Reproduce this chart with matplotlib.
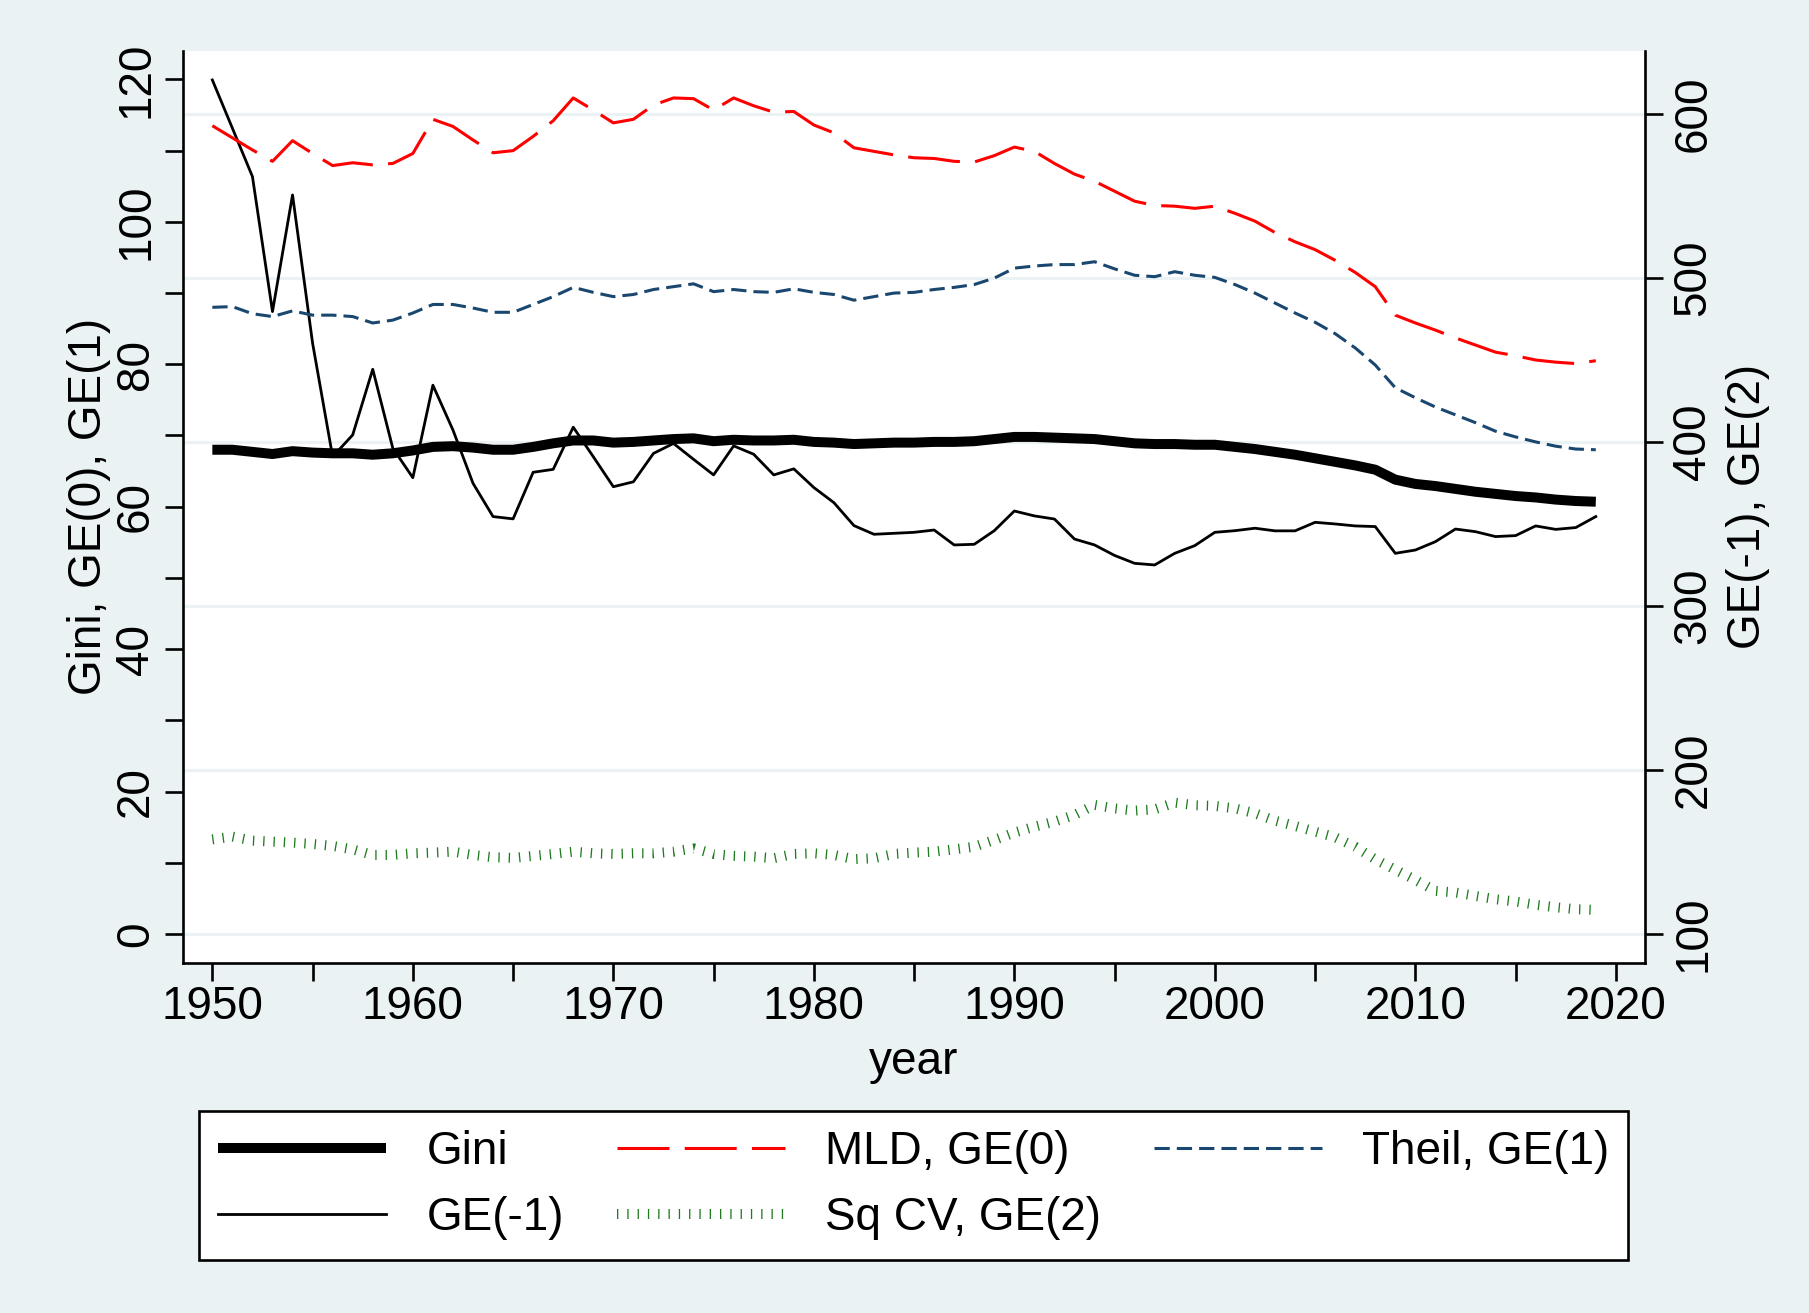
import numpy as np
import matplotlib
matplotlib.use("Agg")
import matplotlib.pyplot as plt

plt.rcParams['font.family'] = ['Liberation Sans', 'DejaVu Sans']
plt.rcParams['font.size'] = 33

# data
years = np.arange(1950, 2020)

gini = [68.0, 68.0, 67.7, 67.4, 67.8, 67.6, 67.5, 67.5, 67.3, 67.5,
        67.9, 68.4, 68.5, 68.3, 68.0, 68.0, 68.4, 68.9, 69.3, 69.3,
        69.0, 69.1, 69.3, 69.5, 69.6, 69.2, 69.4, 69.3, 69.3, 69.4,
        69.1, 69.0, 68.8, 68.9, 69.0, 69.0, 69.1, 69.1, 69.2, 69.5,
        69.8, 69.8, 69.7, 69.6, 69.5, 69.2, 68.9, 68.8, 68.8, 68.7,
        68.7, 68.4, 68.1, 67.7, 67.3, 66.8, 66.3, 65.8, 65.2, 63.8,
        63.2, 62.9, 62.5, 62.1, 61.8, 61.5, 61.3, 61.0, 60.8, 60.7]

mld = [113.5, 111.8, 110.1, 108.5, 111.4, 109.6, 107.9, 108.3, 108.0, 108.2,
       109.6, 114.4, 113.4, 111.5, 109.7, 110.0, 112.0, 114.2, 117.4, 115.7,
       113.9, 114.4, 116.4, 117.4, 117.3, 115.7, 117.4, 116.3, 115.4, 115.5,
       113.6, 112.5, 110.4, 109.9, 109.4, 109.0, 108.9, 108.5, 108.4, 109.3,
       110.5, 109.9, 108.2, 106.7, 105.7, 104.3, 102.9, 102.3, 102.2, 101.9,
       102.2, 101.2, 100.1, 98.5, 97.2, 96.1, 94.6, 92.9, 90.9, 86.9,
       85.8, 84.8, 83.7, 82.7, 81.7, 81.2, 80.6, 80.3, 80.1, 80.5]

theil = [88.0, 88.1, 87.1, 86.7, 87.5, 86.9, 86.9, 86.7, 85.8, 86.2,
         87.2, 88.4, 88.4, 87.9, 87.3, 87.3, 88.4, 89.5, 90.8, 90.1,
         89.5, 89.8, 90.5, 90.9, 91.3, 90.2, 90.5, 90.2, 90.1, 90.6,
         90.1, 89.8, 89.0, 89.5, 90.0, 90.1, 90.5, 90.8, 91.2, 92.1,
         93.5, 93.8, 94.0, 94.0, 94.4, 93.4, 92.5, 92.3, 93.0, 92.5,
         92.2, 91.2, 90.0, 88.6, 87.2, 85.9, 84.3, 82.3, 79.9, 76.7,
         75.3, 74.0, 72.9, 71.8, 70.6, 69.8, 69.1, 68.5, 68.1, 68.0]

# right axis series
ge_m1 = [620.7, 591.3, 561.8, 479.5, 550.6, 460.2, 391.0, 404.3, 444.3, 396.2,
         378.2, 434.6, 407.3, 374.8, 354.5, 353.1, 381.5, 383.3, 409.0, 391.0,
         372.7, 375.7, 393.0, 399.1, 389.4, 379.9, 397.6, 392.5, 379.9, 383.6,
         372.2, 363.0, 349.0, 343.7, 344.3, 344.9, 346.3, 337.2, 337.6, 345.9,
         357.9, 354.9, 353.0, 340.8, 337.2, 330.8, 326.0, 325.0, 332.1, 336.8,
         344.9, 345.9, 347.4, 345.8, 345.8, 351.0, 350.0, 348.8, 348.4, 332.1,
         334.1, 339.2, 346.9, 345.3, 342.3, 342.9, 348.8, 346.7, 347.8, 354.5]

sqcv = [157.7, 159.4, 156.9, 156.3, 155.7, 154.9, 153.7, 151.6, 148.2, 148.2,
        149.2, 149.6, 150.2, 148.2, 146.8, 146.4, 147.6, 148.8, 150.2, 149.2,
        148.8, 149.2, 149.2, 150.2, 152.2, 148.8, 147.6, 147.2, 146.2, 148.8,
        149.2, 148.2, 145.6, 146.2, 148.8, 149.6, 150.2, 151.6, 153.2, 157.3,
        161.8, 165.4, 168.5, 172.6, 178.7, 176.6, 175.2, 176.0, 180.1, 178.5,
        178.1, 176.6, 173.6, 169.1, 165.9, 162.4, 159.0, 153.2, 145.5, 139.2,
        133.0, 126.3, 125.3, 123.2, 121.2, 119.8, 117.8, 116.3, 115.1, 114.7]

bg = '#EAF2F3'

fig = plt.figure(figsize=(18.09, 13.13), dpi=100, facecolor=bg)
ax = fig.add_axes([0.1012, 0.2668, 0.8081, 0.6944])
ax2 = ax.twinx()

# right axis goes underneath so its grid sits below every line
ax.set_zorder(ax2.get_zorder() + 1)
ax.patch.set_visible(False)
ax2.patch.set_visible(True)
ax2.patch.set_facecolor('white')

l_gini, = ax.plot(years, gini, color='black', lw=7.2, solid_capstyle='butt')
l_mld, = ax.plot(years, mld, color='red', lw=2.2, ls=(0, (17, 5)))
l_theil, = ax.plot(years, theil, color='#1a476f', lw=2.2, ls=(0, (5, 2.3)))
l_gem1, = ax2.plot(years, ge_m1, color='black', lw=2.0)
l_sqcv, = ax2.plot(years, sqcv, color='#1e7b1e', lw=7.2, ls=(0, (0.13, 0.9)))

ax.set_xlim(1948.54, 2021.45)
ax.set_ylim(-4.03, 124.0)
ax2.set_ylim(82.5, 638.4)

ax.set_xticks(range(1950, 2021, 10))
ax.set_xticks(range(1955, 2021, 10), minor=True)
ax.set_yticks(range(0, 121, 20))
ax.set_yticks(range(10, 120, 20), minor=True)
ax2.set_yticks(range(100, 601, 100))

ax.tick_params(axis='x', which='both', length=13, width=1.9, pad=3)
ax.tick_params(axis='y', which='both', length=13, width=1.9, pad=5, labelrotation=90)
ax2.tick_params(axis='y', length=13, width=1.9, pad=6, labelrotation=90)
plt.setp(ax.get_yticklabels(), va='center')
plt.setp(ax2.get_yticklabels(), va='center')

ax2.grid(axis='y', color=bg, lw=2.2)
ax2.set_axisbelow(True)

for s in ['top', 'right']:
    ax.spines[s].set_visible(False)
for s in ['top', 'left', 'bottom']:
    ax2.spines[s].set_visible(False)
ax.spines['left'].set_linewidth(1.9)
ax.spines['bottom'].set_linewidth(1.9)
ax2.spines['right'].set_linewidth(1.9)

ax.set_xlabel('year')
ax.xaxis.set_label_coords(0.5, -0.085)
ax.set_ylabel('Gini, GE(0), GE(1)')
ax.yaxis.set_label_coords(-0.0495, 0.5)
ax2.set_ylabel('GE(-1), GE(2)')
ax2.yaxis.set_label_coords(1.0555, 0.5)

handles = [l_gini, l_gem1, l_mld, l_sqcv, l_theil]
labels = ['Gini', 'GE(-1)', 'MLD, GE(0)', 'Sq CV, GE(2)', 'Theil, GE(1)']
leg = fig.legend(handles, labels, ncol=3, loc='center',
                 bbox_to_anchor=(0.110, 0.0411, 0.790, 0.1122), mode='expand',
                 frameon=True, fancybox=False, edgecolor='black', framealpha=1,
                 handlelength=3.67, handletextpad=0.87, columnspacing=1.5,
                 borderpad=0.42, labelspacing=0.48, borderaxespad=0)
leg.get_frame().set_linewidth(1.9)

fig.savefig('out.png', dpi=100, facecolor=fig.get_facecolor())
